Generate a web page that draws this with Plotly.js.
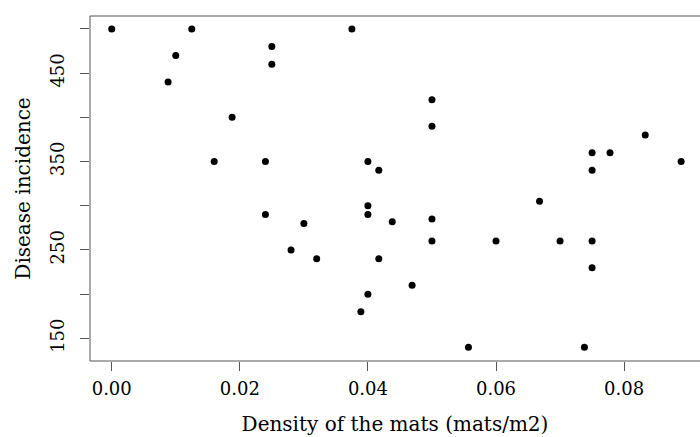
<!DOCTYPE html>
<html>
<head>
<meta charset="utf-8">
<script src="https://cdn.plot.ly/plotly-3.0.1.min.js"></script>
<style>html,body{margin:0;padding:0;background:#fff;}#chart{width:700px;height:437px;}</style>
</head>
<body>
<div id="chart"></div>
<script>
// Density of the mats (mats/m2)
var density = [0.000, 0.0125, 0.0100, 0.0088, 0.025, 0.025, 0.0188, 0.0375, 0.016, 0.024, 0.040, 0.0417,
  0.050, 0.050, 0.075, 0.0778, 0.0833, 0.075, 0.0889,
  0.024, 0.030, 0.028, 0.032, 0.040, 0.040, 0.0438, 0.0417, 0.040, 0.0389,
  0.050, 0.050, 0.0469, 0.060, 0.0668, 0.070, 0.075, 0.075, 0.0557, 0.0738];
// Disease incidence
var incidence = [500, 500, 470, 440, 480, 460, 400, 500, 350, 350, 350, 340,
  420, 390, 360, 360, 380, 340, 350,
  290, 280, 250, 240, 300, 290, 282, 240, 200, 180,
  285, 260, 210, 260, 305, 260, 260, 230, 140, 140];
var xTickVals = [0.00, 0.02, 0.04, 0.06, 0.08];
var xTickText = ["0.00", "0.02", "0.04", "0.06", "0.08"];
var yTickVals = [150, 200, 250, 300, 350, 400, 450, 500];
var yTickText = ["150", "", "250", "", "350", "", "450", ""];

var font = "DejaVu Serif";
var trace = {
  x: density, y: incidence, type: "scatter", mode: "markers",
  marker: {color: "#000", size: 7},
  hoverinfo: "x+y"
};
var layout = {
  width: 700, height: 437,
  margin: {l: 90, r: 0, t: 16, b: 76},
  paper_bgcolor: "#fff", plot_bgcolor: "#fff",
  showlegend: false,
  font: {family: font, color: "#000", size: 18},
  xaxis: {
    range: [-0.00339, 0.09185], showgrid: false, zeroline: false, showline: false,
    tickvals: xTickVals, ticktext: xTickText,
    ticks: "outside", ticklen: 9, tickcolor: "#555", tickwidth: 1,
    ticklabelstandoff: 2,
    tickfont: {family: font, size: 18, color: "#000"},
    title: {text: "Density of the mats (mats/m2)", font: {family: font, size: 20, color: "#000"}, standoff: 19},
    automargin: false
  },
  yaxis: {
    range: [124.4, 514.6], showgrid: false, zeroline: false, showline: false,
    tickvals: yTickVals, ticktext: yTickText, tickangle: -90,
    ticks: "outside", ticklen: 9, tickcolor: "#555", tickwidth: 1,
    ticklabelstandoff: 9,
    tickfont: {family: font, size: 18, color: "#000"},
    title: {text: "Disease incidence", font: {family: font, size: 20, color: "#000"}, standoff: 10},
    automargin: false
  },
  shapes: [{type: "rect", xref: "paper", yref: "paper", x0: 0, x1: 1.2, y0: 0, y1: 1,
    line: {color: "#555", width: 1}, fillcolor: "rgba(0,0,0,0)", layer: "above"}]
};
Plotly.newPlot("chart", [trace], layout, {staticPlot: true, displayModeBar: false});
</script>
</body>
</html>
